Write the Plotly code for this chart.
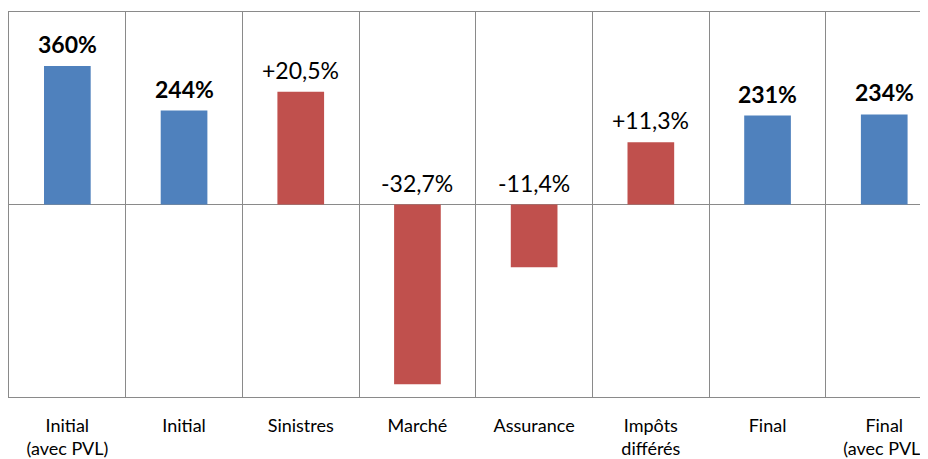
import plotly.graph_objects as go

categories = ["Initial<br>(avec PVL)", "Initial", "Sinistres", "Marché", "Assurance",
              "Impôts<br>différés", "Final", "Final<br>(avec PVL)"]
ratio_values = [360, 244, None, None, None, None, 231, 234]      # ratio de solvabilité (%)
impact_values = [None, None, 20.5, -32.7, -11.4, 11.3, None, None]  # impacts (points de %)

BLUE = "#4F81BD"
RED = "#C0504D"
GRID = "#8a8a8a"
FONT = "Lato"

fig = go.Figure()

fig.add_trace(go.Bar(x=categories, y=ratio_values, marker_color=BLUE,
                     marker_line_width=0, width=0.4, yaxis="y"))
fig.add_trace(go.Bar(x=categories, y=impact_values, marker_color=RED,
                     marker_line_width=0, width=0.4, yaxis="y2"))

# Labels above bars (negative bars get their label above the zero line)
for cat, v in zip(categories, ratio_values):
    if v is None:
        continue
    fig.add_annotation(x=cat, y=v, yref="y", text=f"<b>{v:.0f}%</b>",
                       showarrow=False, yshift=22, yanchor="middle",
                       font=dict(family=FONT, size=23, color="black"))
for cat, v in zip(categories, impact_values):
    if v is None:
        continue
    txt = f"{v:+.1f}%".replace(".", ",")
    fig.add_annotation(x=cat, y=max(v, 0), yref="y2", text=txt,
                       showarrow=False, yshift=22, yanchor="middle",
                       font=dict(family=FONT, size=23, color="black"))

# page body has an 8px margin, so the figure is shifted; margins compensate
fig.update_layout(
    width=928, height=459,
    margin=dict(l=1, r=8, t=4, b=70, autoexpand=False),
    paper_bgcolor="white", plot_bgcolor="white",
    showlegend=False, barmode="overlay",
    font=dict(family=FONT, size=18, color="black"),
    xaxis=dict(type="category", range=[-0.5, 7.375], tickson="boundaries",
               automargin=False, ticklabelstandoff=12,
               showgrid=True, gridcolor=GRID, gridwidth=1,
               showline=True, mirror=True, linecolor=GRID, linewidth=1,
               ticks="", tickfont=dict(family=FONT, size=18, color="black")),
    yaxis=dict(range=[-500, 500], showticklabels=False, showgrid=False,
               automargin=False,
               zeroline=True, zerolinecolor=GRID, zerolinewidth=1,
               showline=True, linecolor=GRID, linewidth=1, fixedrange=True),
    yaxis2=dict(range=[-35, 35], overlaying="y", showticklabels=False,
                automargin=False,
                showgrid=False, zeroline=False, showline=False),
)

fig.write_html("out.html")
